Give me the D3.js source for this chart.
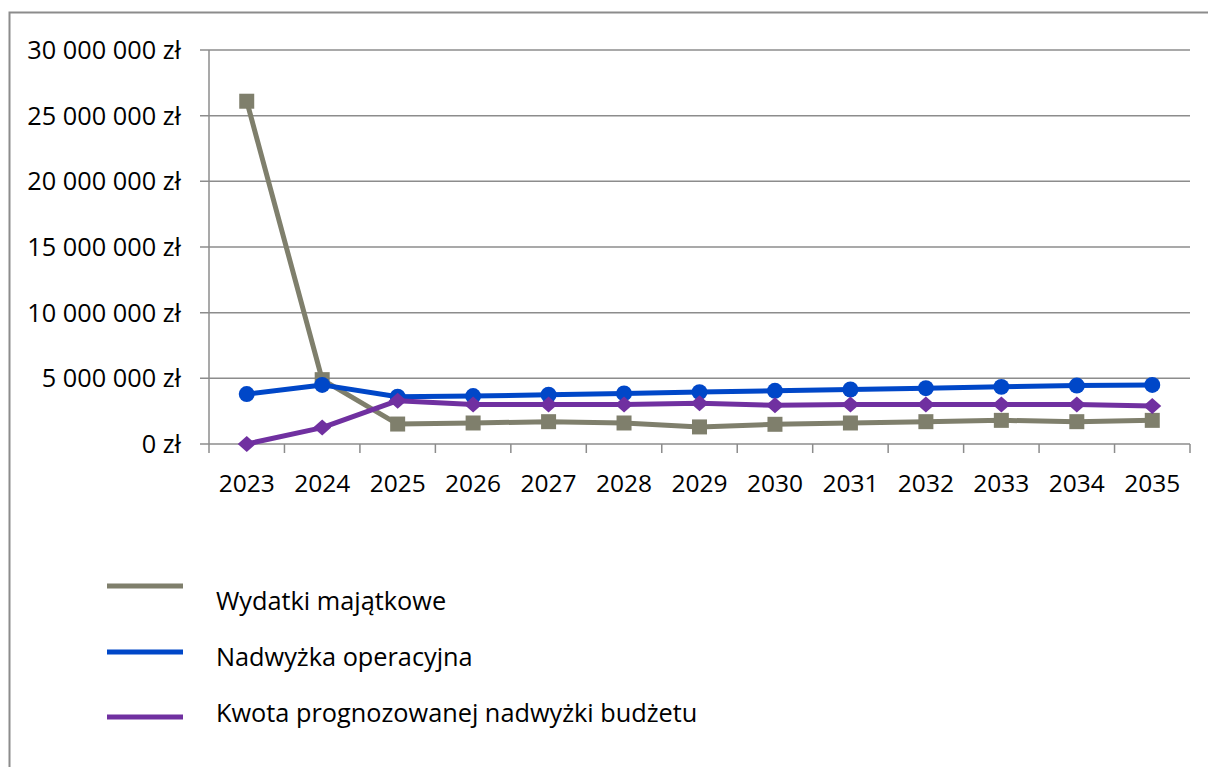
<!DOCTYPE html>
<html><head><meta charset="utf-8">
<script src="https://cdn.jsdelivr.net/npm/d3@7"></script>
<style>body{margin:0;background:#fff;overflow:hidden}svg{display:block}text{font-family:"Open Sans",sans-serif;fill:#000}</style>
</head><body>
<script>
const years = ["2023","2024","2025","2026","2027","2028","2029","2030","2031","2032","2033","2034","2035"];
const wydatkiMajatkowe = [26100000,4900000,1520000,1600000,1700000,1600000,1300000,1500000,1600000,1700000,1800000,1700000,1800000];
const nadwyzkaOperacyjna = [3800000,4500000,3600000,3650000,3750000,3850000,3950000,4050000,4150000,4250000,4350000,4450000,4500000];
const kwotaNadwyzki = [0,1250000,3300000,3000000,3000000,3000000,3100000,2950000,3000000,3000000,3000000,3000000,2900000];
const yTicks = [0,5000000,10000000,15000000,20000000,25000000,30000000];
const seriesNames = ["Wydatki majątkowe","Nadwyżka operacyjna","Kwota prognozowanej nadwyżki budżetu"];

(function () {
const series = [
  {name: seriesNames[0], values: wydatkiMajatkowe, color: "#7f7f6c", marker: "square"},
  {name: seriesNames[1], values: nadwyzkaOperacyjna, color: "#0047c8", marker: "circle"},
  {name: seriesNames[2], values: kwotaNadwyzki, color: "#7030a0", marker: "diamond"}
];

const W = 1208, H = 767;
const svg = d3.select("body").append("svg").attr("width", W).attr("height", H);
const gridColor = "#8c8c8c";
const fs = "25.3px";

svg.append("rect").attr("x", 9.5).attr("y", 12.5).attr("width", 1230).attr("height", 800)
  .attr("fill", "none").attr("stroke", gridColor).attr("stroke-width", 2);

const pL = 209, pR = 1190, pT = 50, pB = 444;
const x = d3.scaleBand().domain(years).range([pL, pR]);
const y = d3.scaleLinear().domain([0, 30000000]).range([pB, pT]);

const fmt = v => d3.format(",")(v).replace(/,/g, " ") + " zł";

svg.append("g").selectAll("line").data(yTicks).join("line")
  .attr("x1", 200).attr("x2", pR)
  .attr("y1", d => y(d)).attr("y2", d => y(d))
  .attr("stroke", gridColor).attr("stroke-width", 1.5);

svg.append("line").attr("x1", pL).attr("x2", pL).attr("y1", pT).attr("y2", pB)
  .attr("stroke", gridColor).attr("stroke-width", 1.5);

svg.append("g").selectAll("text").data(yTicks).join("text")
  .attr("x", 181).attr("y", d => y(d)).attr("dy", "0.36em")
  .attr("text-anchor", "end").style("font-size", fs).text(fmt);

const xTickPos = years.map(d => x(d)).concat([pR]);
svg.append("g").selectAll("line").data(xTickPos).join("line")
  .attr("x1", d => d).attr("x2", d => d).attr("y1", pB).attr("y2", pB + 9)
  .attr("stroke", gridColor).attr("stroke-width", 1.5);

svg.append("g").selectAll("text").data(years).join("text")
  .attr("x", d => x(d) + x.bandwidth() / 2).attr("y", 492)
  .attr("text-anchor", "middle").style("font-size", "24.5px").text(d => d);

const cx = i => x(years[i]) + x.bandwidth() / 2;
const line = d3.line().x((d, i) => cx(i)).y(d => y(d));

const markerPath = m => {
  if (m === "square") return "M-7.5,-7.5H7.5V7.5H-7.5Z";
  if (m === "circle") return d3.symbol().type(d3.symbolCircle).size(200)();
  return "M-9,0L0,-8L9,0L0,8Z";
};

series.forEach(s => {
  const g = svg.append("g");
  g.append("path").attr("d", line(s.values)).attr("fill", "none")
    .attr("stroke", s.color).attr("stroke-width", 5).attr("stroke-linejoin", "round");
  g.selectAll("path.m").data(s.values).join("path").attr("class", "m")
    .attr("transform", (d, i) => `translate(${cx(i)},${y(d)})`)
    .attr("d", markerPath(s.marker)).attr("fill", s.color);
});

const legLineY = [586, 652, 717];
const legTextY = [601, 657, 713];
series.forEach((s, i) => {
  svg.append("line").attr("x1", 107).attr("x2", 183).attr("y1", legLineY[i]).attr("y2", legLineY[i])
    .attr("stroke", s.color).attr("stroke-width", 5);
  svg.append("text").attr("x", 216).attr("y", legTextY[i]).attr("dy", "0.36em")
    .style("font-size", fs).text(s.name);
});
})();
</script>
</body></html>
